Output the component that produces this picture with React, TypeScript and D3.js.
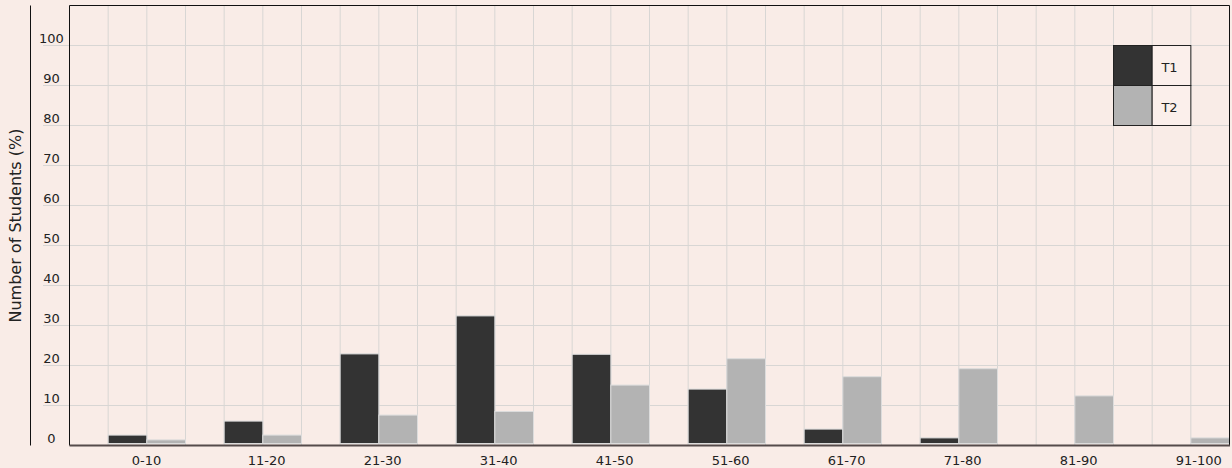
import React from "react";
import * as d3 from "d3";

const categories = ["0-10", "11-20", "21-30", "31-40", "41-50", "51-60", "61-70", "71-80", "81-90", "91-100"];
const seriesNames = ["T1", "T2"];
const t1Values = [2.1, 5.6, 22.4, 31.9, 22.3, 13.6, 3.6, 1.4, 0, 0];
const t2Values = [0.9, 2.1, 7.1, 8.0, 14.6, 21.2, 16.7, 18.7, 11.9, 1.4];
const yTicks = [0, 10, 20, 30, 40, 50, 60, 70, 80, 90, 100];
const yTitle = "Number of Students (%)";

const W = 1232;
const H = 468;
const BG = "#f9ece7";
const GRID = "#d8d6d4";
const FONT = "'DejaVu Sans', Verdana, sans-serif";
const COLORS = ["#333333", "#b3b3b3"];

export default function App() {
  const left = 69.5;
  const right = 1229.5;
  const top = 5.5;
  const bottom = 445.5;

  const y = d3.scaleLinear().domain([0, 110]).range([bottom, top]);
  const cols = categories.length * 3;
  const col = d3.scaleLinear().domain([0, cols]).range([left, right]);
  const x = d3.scaleBand<string>().domain(categories).range([left, right]).padding(0);
  const cw = x.bandwidth() / 3;

  const series = [t1Values, t2Values];

  const colIdx = d3.range(1, cols);

  // legend placed on grid cells (columns 27-28, rows 100->80)
  const lgX0 = col(27);
  const lgX1 = col(28);
  const lgX2 = col(29);

  return (
    <svg
      width={W}
      height={H}
      style={{ position: "absolute", left: 0, top: 0, display: "block", background: BG }}
      fontFamily={FONT}
    >
      <rect x={0} y={0} width={W} height={H} fill={BG} />
      {/* vertical grid */}
      {colIdx.map((i) => (
        <line key={"v" + i} x1={col(i)} x2={col(i)} y1={top} y2={bottom} stroke={GRID} strokeWidth={1} />
      ))}
      {/* horizontal grid */}
      {yTicks.filter((t) => t > 0).map((t) => (
        <line key={"h" + t} x1={43} x2={right} y1={y(t)} y2={y(t)} stroke={GRID} strokeWidth={1} />
      ))}
      {/* y tick labels */}
      {yTicks.map((t) => (
        <text key={"yl" + t} x={51.5} y={y(t) - 2.3} fontSize={13} textAnchor="middle" fill="#222">
          {t}
        </text>
      ))}
      {/* bars */}
      {categories.map((c, i) =>
        series.map((vals, s) => {
          const v = vals[i];
          if (!v) return null;
          const x0 = (x(c) as number) + cw * (s + 1);
          const yTop = y(v) - 2;
          const yBot = y(0) - 2;
          return (
            <rect
              key={c + s}
              x={x0}
              y={yTop}
              width={cw}
              height={yBot - yTop}
              fill={COLORS[s]}
              stroke="#dcdcdc"
              strokeWidth={1}
            />
          );
        })
      )}
      {/* frame */}
      <line x1={left} x2={right} y1={top} y2={top} stroke="#111" strokeWidth={1} />
      <line x1={left} x2={left} y1={top} y2={bottom} stroke="#111" strokeWidth={1} />
      <line x1={right} x2={right} y1={top} y2={bottom} stroke="#111" strokeWidth={1} />
      <line x1={left} x2={right + 0.5} y1={bottom} y2={bottom} stroke="#554b4b" strokeWidth={2} />
      {/* y axis line */}
      <line x1={30.5} x2={30.5} y1={top} y2={bottom} stroke="#111" strokeWidth={1} />
      {/* y title */}
      <text
        transform={`translate(20.5,${(top + bottom) / 2}) rotate(-90)`}
        textAnchor="middle"
        fontSize={16}
        fill="#222"
      >
        {yTitle}
      </text>
      {/* x labels */}
      {categories.map((c) => (
        <text key={"xl" + c} x={(x(c) as number) + cw * 2 - 15} y={465} fontSize={13} textAnchor="start" fill="#222">
          {c}
        </text>
      ))}
      {/* legend */}
      {seriesNames.map((n, s) => {
        const r0 = y(100 - s * 10);
        const r1 = y(90 - s * 10);
        return (
          <g key={"lg" + n}>
            <rect x={lgX0} y={r0} width={lgX1 - lgX0} height={r1 - r0} fill={COLORS[s]} stroke="#222" strokeWidth={1} />
            <rect x={lgX1} y={r0} width={lgX2 - lgX1} height={r1 - r0} fill="#fbefeb" stroke="#222" strokeWidth={1} />
            <text x={(lgX1 + lgX2) / 2 - 2} y={(r0 + r1) / 2 + 6.5} fontSize={13} textAnchor="middle" fill="#222">
              {n}
            </text>
          </g>
        );
      })}
    </svg>
  );
}
